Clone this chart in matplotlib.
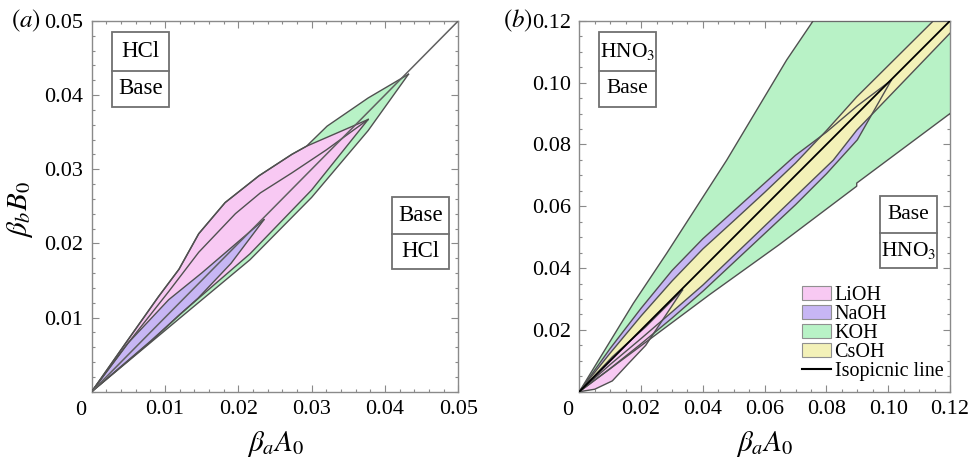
import matplotlib
matplotlib.use("Agg")
import matplotlib.pyplot as plt
from matplotlib.patches import Patch, Rectangle
from matplotlib.lines import Line2D

plt.rcParams['font.family'] = ['Liberation Serif', 'DejaVu Serif']
plt.rcParams['mathtext.fontset'] = 'stix'

# colours for the four bases
c_li = '#f8c9f3'
c_na = '#c7b6f4'
c_k = '#b8f2c6'
c_cs = '#f3f1b8'
edge = '#505050'

# ---- panel (a): HCl ----
a_li_up_x = [0, 0.0046, 0.0091, 0.0119, 0.0146, 0.0182, 0.0228, 0.0273, 0.0293, 0.0377]
a_li_up_y = [0, 0.0065, 0.0128, 0.0165, 0.0213, 0.0255, 0.0291, 0.0320, 0.0331, 0.0367]
a_li_lo_x = [0, 0.008, 0.012, 0.0216, 0.030, 0.0377]
a_li_lo_y = [0, 0.0067, 0.0104, 0.0186, 0.0272, 0.0367]
a_li_in_x = [0, 0.0046, 0.0105, 0.0146, 0.0196, 0.0230, 0.0273, 0.0320, 0.0377]
a_li_in_y = [0, 0.0061, 0.0135, 0.0188, 0.0240, 0.0268, 0.0295, 0.0326, 0.0367]

a_na_up_x = [0, 0.005, 0.0105, 0.015, 0.0235]
a_na_up_y = [0, 0.0066, 0.0124, 0.0160, 0.0232]
a_na_lo_x = [0, 0.008, 0.0145, 0.019, 0.0235]
a_na_lo_y = [0, 0.0068, 0.0126, 0.0173, 0.0232]

a_k_up_x = [0, 0.0046, 0.0091, 0.0119, 0.0146, 0.0182, 0.0228, 0.0273, 0.0293, 0.0321, 0.0377, 0.0432]
a_k_up_y = [0, 0.0065, 0.0128, 0.0165, 0.0213, 0.0255, 0.0291, 0.0320, 0.0331, 0.0358, 0.0396, 0.0428]
a_k_lo_x = [0, 0.008, 0.012, 0.0216, 0.030, 0.0377, 0.0432]
a_k_lo_y = [0, 0.0066, 0.0099, 0.0178, 0.0262, 0.0352, 0.0428]

a_iso = [0, 0.05]

# ---- panel (b): HNO3 ----
b_li_up_x = [0, 0.0107, 0.0215, 0.029, 0.0334]
b_li_up_y = [0, 0.0113, 0.0210, 0.0285, 0.0329]
b_li_lo_x = [0, 0.005, 0.0107, 0.016, 0.0215, 0.0334]
b_li_lo_y = [0, 0.0008, 0.0035, 0.0092, 0.0150, 0.0329]

b_na_up_x = [0, 0.01, 0.02, 0.03, 0.04, 0.05, 0.06, 0.07, 0.08, 0.09, 0.101]
b_na_up_y = [0, 0.0140, 0.0270, 0.0392, 0.0495, 0.0585, 0.0675, 0.0765, 0.0840, 0.0925, 0.1008]
b_na_lo_x = [0, 0.01, 0.02, 0.03, 0.04, 0.055, 0.07, 0.08, 0.09, 0.101]
b_na_lo_y = [0, 0.0075, 0.0155, 0.0238, 0.0325, 0.0465, 0.0605, 0.0705, 0.0815, 0.1008]

b_cs_up_x = [0, 0.01, 0.02, 0.03, 0.04, 0.05, 0.06, 0.07, 0.08, 0.0898, 0.1146, 0.12]
b_cs_up_y = [0, 0.0125, 0.0245, 0.0358, 0.0462, 0.0553, 0.0645, 0.0740, 0.0845, 0.0954, 0.12, 0.12]
b_cs_lo_x = [0, 0.01, 0.02, 0.03, 0.04, 0.0553, 0.07, 0.0822, 0.0898, 0.12]
b_cs_lo_y = [0, 0.0088, 0.0172, 0.0258, 0.0345, 0.0491, 0.0632, 0.0749, 0.0846, 0.116]

b_k_up_x = [0, 0.0175, 0.0283, 0.0477, 0.0671, 0.0757, 0.12]
b_k_up_y = [0, 0.0286, 0.0448, 0.0749, 0.1073, 0.12, 0.12]
b_k_lo_x = [0, 0.0215, 0.0423, 0.0646, 0.0898, 0.0898, 0.12]
b_k_lo_y = [0, 0.0160, 0.0315, 0.0475, 0.0665, 0.0675, 0.0900]

b_iso = [0, 0.12]

names = ['LiOH', 'NaOH', 'KOH', 'CsOH']

FS = 16


def region(ax, ux, uy, lx, ly, color):
    xs = list(ux) + list(lx[::-1])
    ys = list(uy) + list(ly[::-1])
    ax.fill(xs, ys, facecolor=color, edgecolor='none', zorder=2)


def outline(ax, ux, uy, lx, ly):
    ax.plot(ux, uy, color=edge, lw=1.0, zorder=4)
    ax.plot(lx, ly, color=edge, lw=1.0, zorder=4)


def split_box(ax, x0, x1, y0, ym, y1, top, bottom, fs):
    ax.add_patch(Rectangle((x0, y0), x1 - x0, y1 - y0, transform=ax.transAxes,
                           facecolor='white', edgecolor='#707070', lw=1.3, zorder=6))
    ax.plot([x0, x1], [ym, ym], transform=ax.transAxes, color='#707070', lw=1.3, zorder=7)
    ax.text((x0 + x1) / 2, (ym + y1) / 2, top, transform=ax.transAxes,
            ha='center', va='center', fontsize=fs, zorder=8)
    ax.text((x0 + x1) / 2, (y0 + ym) / 2, bottom, transform=ax.transAxes,
            ha='center', va='center', fontsize=fs, zorder=8)


def style(ax, lim, major, minor, fmt):
    ax.set_xlim(0, lim)
    ax.set_ylim(0, lim)
    ticks = [major * i for i in range(1, int(round(lim / major)) + 1)]
    ax.set_xticks(ticks)
    ax.set_yticks(ticks)
    ax.set_xticklabels([fmt % t for t in ticks])
    ax.set_yticklabels([fmt % t for t in ticks])
    ax.set_xticks([minor * i for i in range(int(round(lim / minor)) + 1)], minor=True)
    ax.set_yticks([minor * i for i in range(int(round(lim / minor)) + 1)], minor=True)
    ax.tick_params(which='both', direction='in', top=True, right=True,
                   color='#8a8a8a', width=0.8, labelsize=FS)
    ax.tick_params(which='major', length=5)
    ax.tick_params(which='minor', length=2.5)
    ax.tick_params(axis='x', pad=6)
    ax.tick_params(axis='y', pad=6)
    for s in ax.spines.values():
        s.set_color('#8a8a8a')
        s.set_linewidth(1.0)
    ax.text(-0.03, -0.025, '0', transform=ax.transAxes, ha='center', va='top', fontsize=FS)
    ax.set_xlabel(r'$\beta_a A_0$', fontsize=21)
    ax.xaxis.set_label_coords(0.5, -0.1)


fig = plt.figure(figsize=(9.7, 4.59), dpi=100)
ax1 = fig.add_axes([0.0945, 0.1466, 0.378, 0.808])
ax2 = fig.add_axes([0.5972, 0.1466, 0.3822, 0.808])

# panel (a)
region(ax1, a_k_up_x, a_k_up_y, a_k_lo_x, a_k_lo_y, c_k)
region(ax1, a_li_up_x, a_li_up_y, a_li_lo_x, a_li_lo_y, c_li)
region(ax1, a_na_up_x, a_na_up_y, a_na_lo_x, a_na_lo_y, c_na)
outline(ax1, a_k_up_x, a_k_up_y, a_k_lo_x, a_k_lo_y)
outline(ax1, a_li_up_x, a_li_up_y, a_li_lo_x, a_li_lo_y)
outline(ax1, a_na_up_x, a_na_up_y, a_na_lo_x, a_na_lo_y)
ax1.plot(a_li_in_x, a_li_in_y, color=edge, lw=1.0, zorder=4)
ax1.plot(a_iso, a_iso, color='#606060', lw=1.1, zorder=5)
style(ax1, 0.05, 0.01, 0.002, '%.2f')
ax1.set_ylabel(r'$\beta_b B_0$', fontsize=21)
ax1.yaxis.set_label_coords(-0.155, 0.49)
split_box(ax1, 0.0546, 0.211, 0.768, 0.865, 0.969, 'HCl', 'Base', 16.5)
split_box(ax1, 0.818, 0.975, 0.33, 0.424, 0.526, 'Base', 'HCl', 16.5)
ax1.text(-0.18, 1.0, r'$(a)$', transform=ax1.transAxes, ha='center', va='center', fontsize=18)

# panel (b)
region(ax2, b_k_up_x, b_k_up_y, b_k_lo_x, b_k_lo_y, c_k)
region(ax2, b_na_up_x, b_na_up_y, b_na_lo_x, b_na_lo_y, c_na)
region(ax2, b_cs_up_x, b_cs_up_y, b_cs_lo_x, b_cs_lo_y, c_cs)
region(ax2, b_li_up_x, b_li_up_y, b_li_lo_x, b_li_lo_y, c_li)
outline(ax2, b_k_up_x, b_k_up_y, b_k_lo_x, b_k_lo_y)
outline(ax2, b_na_up_x, b_na_up_y, b_na_lo_x, b_na_lo_y)
outline(ax2, b_cs_up_x, b_cs_up_y, b_cs_lo_x, b_cs_lo_y)
outline(ax2, b_li_up_x, b_li_up_y, b_li_lo_x, b_li_lo_y)
ax2.plot(b_iso, b_iso, color='black', lw=1.3, zorder=5)
style(ax2, 0.12, 0.02, 0.005, '%.2f')
split_box(ax2, 0.053, 0.207, 0.768, 0.865, 0.969, r'HNO$_3$', 'Base', 15.5)
split_box(ax2, 0.811, 0.966, 0.333, 0.427, 0.527, 'Base', r'HNO$_3$', 15.5)
ax2.text(-0.165, 1.0, r'$(b)$', transform=ax2.transAxes, ha='center', va='center', fontsize=18)

handles = [Patch(facecolor=c, edgecolor='#909090', lw=0.8) for c in [c_li, c_na, c_k, c_cs]]
handles.append(Line2D([0], [0], color='black', lw=1.5))
leg = ax2.legend(handles, names + ['Isopicnic line'], loc='lower right',
                 bbox_to_anchor=(1.02, -0.01), frameon=False, fontsize=14.5,
                 handlelength=1.4, handleheight=0.7, handletextpad=0.2,
                 labelspacing=0.0, borderpad=0.2)
leg.set_zorder(9)

fig.savefig('out.png', dpi=100)
